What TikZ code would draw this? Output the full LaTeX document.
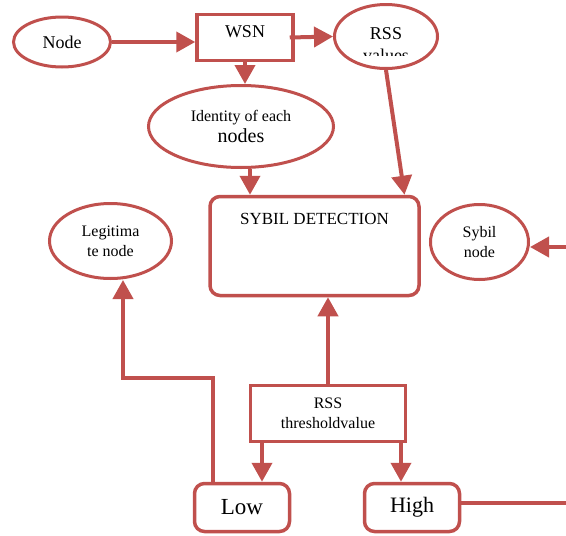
\documentclass[tikz,border=0pt]{standalone}
\usepackage{fontspec}
\setmainfont{Liberation Serif}
\usetikzlibrary{arrows.meta,shapes,positioning,calc}
\definecolor{accentred}{HTML}{C0504D}

\begin{document}
\begin{tikzpicture}[x=1pt,y=-1pt]
  \tikzstyle{oval}=[ellipse,draw=accentred,line width=3pt,inner sep=0pt,align=center,font=\fontsize{16}{20}\selectfont]
  \tikzstyle{box}=[rectangle,draw=accentred,line width=3.5pt,inner sep=0pt,align=center,font=\fontsize{16}{20}\selectfont]
  \tikzstyle{rbox}=[box,rounded corners=10pt]
  \tikzstyle{flow}=[draw=accentred,line width=4pt,-{Triangle[length=19pt,width=20pt]}]
  \tikzstyle{wire}=[draw=accentred,line width=4pt]

  \useasboundingbox (0,0) rectangle (566,536);

  \node[oval,minimum width=97pt,minimum height=50pt,font=\fontsize{18}{22}\selectfont] (node) at (62,42) {Node};
  \node[box,minimum width=96pt,minimum height=46pt,text depth=11pt,font=\fontsize{18}{22}\selectfont] (wsn) at (245,37.5) {WSN};
  \node[oval,minimum width=103pt,minimum height=64pt] (rss) at (386,36.5) {};
  \node[anchor=base,font=\fontsize{18}{22}\selectfont] (rsstxt) at (386,39) {RSS};
  \begin{scope}
    \clip (330,0) rectangle (440,55);
    \node[anchor=base,font=\fontsize{18}{22}\selectfont] (valtxt) at (386,61) {values};
  \end{scope}
  \node[oval,minimum width=185pt,minimum height=82pt] (ident) at (241,126.5) {Identity of each\\[1pt]{\fontsize{20}{24}\selectfont nodes}};

  \node[rbox,minimum width=209pt,minimum height=99pt] (sybil) at (314.5,246) {};
  \node[font=\fontsize{17}{20}\selectfont] (sybiltxt) at (314.5,219) {SYBIL DETECTION};
  \node[oval,minimum width=122pt,minimum height=75pt] (legit) at (110.5,241) {Legitima\\te node};
  \node[oval,minimum width=98pt,minimum height=75pt] (sybnode) at (479.5,242) {Sybil\\node};

  \node[box,minimum width=155pt,minimum height=56pt] (thresh) at (328,413.5) {RSS\\thresholdvalue};
  \node[rbox,minimum width=95pt,minimum height=48pt,font=\fontsize{23}{26}\selectfont] (low) at (242,507.5) {Low};
  \node[rbox,minimum width=95pt,minimum height=48pt,font=\fontsize{22}{26}\selectfont] (high) at (412,507.5) {High};

  \coordinate (bend) at (123,378);
  \coordinate (sybin) at (566,247);
  \coordinate (highout) at (566,503);
  \coordinate (lowin) at ([xshift=20pt]low.north);
  \coordinate (highin) at ([xshift=-11pt]high.north);

  \draw[flow] (node.east) -- (node.east -| wsn.west);
  \draw[flow] ([xshift=-5pt]wsn.east) -- (rss.west);
  \draw[flow] (wsn.south) -- (wsn.south |- ident.north);
  \draw[flow] ([xshift=9pt]ident.south) -- ([xshift=9pt]ident.south |- sybil.north);
  \draw[flow] (rss.south) -- ([xshift=90pt]sybil.north);
  \draw[flow] (thresh.north) -- (thresh.north |- sybil.south);
  \draw[flow] (thresh.south -| lowin) -- (lowin);
  \draw[flow] (thresh.south -| highin) -- (highin);
  \draw[flow] ([xshift=-29pt]low.north) |- (bend) -- (bend |- legit.south);
  \draw[flow] (sybin) -- (sybin -| sybnode.east);
  \draw[wire] (high.east |- highout) -- (highout);
\end{tikzpicture}
\end{document}
